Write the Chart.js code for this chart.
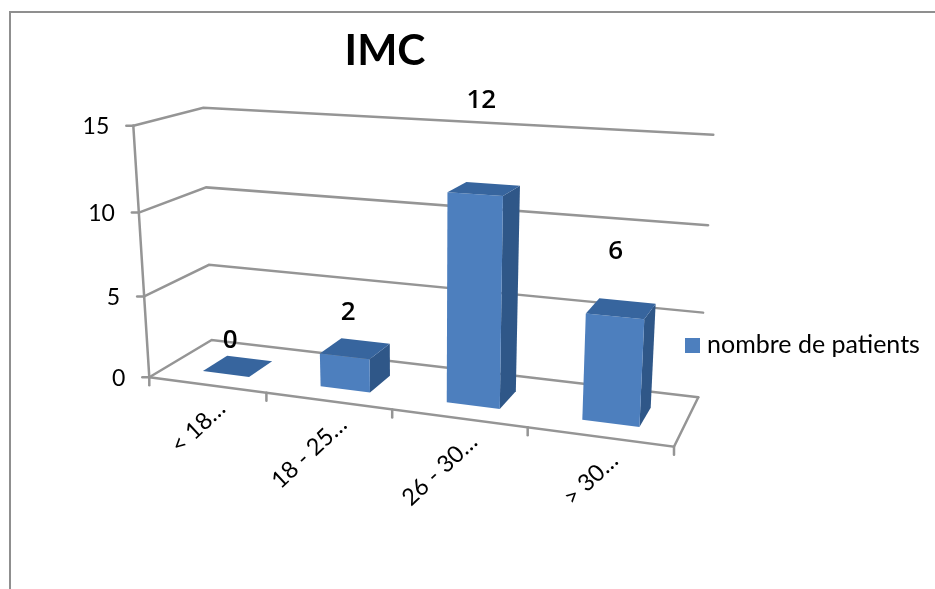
<!DOCTYPE html>
<html>
<head>
<meta charset="utf-8">
<title>IMC</title>
<script src="https://cdn.jsdelivr.net/npm/chart.js@4"></script>
<style>
    html, body { margin: 0; padding: 0; background: #fff; overflow: hidden; }
    #wrap { position: relative; width: 935px; height: 589px; }
</style>
</head>
<body>
<div id="wrap"><canvas id="imcChart" width="935" height="589"></canvas></div>
<script>
var categories = ['< 18…', '18 - 25…', '26 - 30…', '> 30…'];
var patients = [0, 2, 12, 6];
var seriesName = 'nombre de patients';
var titleText = 'IMC';
var valueMax = 15;
var valueStep = 5;

var FONT = 'Lato';
var GRID_COLOR = '#959595';
var FACE_COLOR = '#4d7fbe';
var TOP_COLOR = '#37659e';
var SIDE_COLOR = '#2f5788';

// screen corners of the chart box: bottom-left, bottom-right, top-right, top-left
var backWall = [[211.7, 340], [698.3, 397.3], [713.3, 134.7], [203.3, 107.7]];
var frontWall = [[149.3, 377.3], [674, 446.7], [689.4, 156.7], [133.3, 125.7]];
// bar footprint along the depth axis, 0 = front of the floor, 1 = back wall
var BAR_FRONT = 0.29;
var BAR_BACK = 0.69;
var BAR_SHIFT = 0.004;

// unit square -> quad, perspective map
function squareToQuad(q) {
    var dx1 = q[1][0] - q[2][0], dx2 = q[3][0] - q[2][0], sx = q[0][0] - q[1][0] + q[2][0] - q[3][0];
    var dy1 = q[1][1] - q[2][1], dy2 = q[3][1] - q[2][1], sy = q[0][1] - q[1][1] + q[2][1] - q[3][1];
    var den = dx1 * dy2 - dx2 * dy1;
    var g = (sx * dy2 - dx2 * sy) / den;
    var h = (dx1 * sy - sx * dy1) / den;
    return function (u, v) {
        var w = g * u + h * v + 1;
        return [
            ((q[1][0] - q[0][0] + g * q[1][0]) * u + (q[3][0] - q[0][0] + h * q[3][0]) * v + q[0][0]) / w,
            ((q[1][1] - q[0][1] + g * q[1][1]) * u + (q[3][1] - q[0][1] + h * q[3][1]) * v + q[0][1]) / w
        ];
    };
}

var frontMap = squareToQuad(frontWall);
var backMap = squareToQuad(backWall);

function project(u, v, d) {
    var a = frontMap(u, v), b = backMap(u, v);
    return [a[0] + (b[0] - a[0]) * d, a[1] + (b[1] - a[1]) * d];
}

function line(ctx, pts) {
    ctx.beginPath();
    ctx.moveTo(pts[0][0], pts[0][1]);
    for (var i = 1; i < pts.length; i++) ctx.lineTo(pts[i][0], pts[i][1]);
    ctx.stroke();
}

function fillPoly(ctx, pts, color) {
    ctx.fillStyle = color;
    ctx.beginPath();
    ctx.moveTo(pts[0][0], pts[0][1]);
    for (var i = 1; i < pts.length; i++) ctx.lineTo(pts[i][0], pts[i][1]);
    ctx.closePath();
    ctx.fill();
}

var perspectivePlugin = {
    id: 'perspective',
    beforeDatasetsDraw: function (chart) {
        var ctx = chart.ctx;
        var xs = chart.scales.x, ys = chart.scales.y;
        var meta = chart.getDatasetMeta(0);
        var toU = function (px) { return (px - xs.left) / (xs.right - xs.left); };
        var toV = function (px) { return (ys.bottom - px) / (ys.bottom - ys.top); };

        ctx.save();
        // outer frame, right and bottom edges fall off the canvas
        ctx.strokeStyle = '#8f8f8f';
        ctx.lineWidth = 2;
        ctx.strokeRect(10, 12, 960, 620);

        ctx.strokeStyle = GRID_COLOR;
        ctx.lineWidth = 2.5;
        ctx.lineCap = 'round';

        // walls and value ticks
        ctx.fillStyle = '#000';
        ctx.font = '23px ' + FONT;
        ctx.textAlign = 'right';
        ctx.textBaseline = 'middle';
        ys.ticks.forEach(function (tick) {
            var v = toV(ys.getPixelForValue(tick.value));
            var front = project(0, v, 0);
            line(ctx, [front, project(0, v, 1), project(1, v, 1)]);
            line(ctx, [[front[0] - 7, front[1]], front]);
            ctx.fillText(String(tick.value), front[0] - 24, front[1] + 1);
        });
        line(ctx, [project(0, 0, 0), project(0, 1, 0)]);

        // floor
        line(ctx, [project(0, 0, 0), project(1, 0, 0), project(1, 0, 1)]);

        // category ticks and rotated labels
        xs.ticks.forEach(function (tick, i) {
            var edge = xs.getPixelForTick(i) + (xs.getPixelForTick(1) - xs.getPixelForTick(0)) / 2;
            var p = project(toU(edge), 0, 0);
            line(ctx, [p, [p[0], p[1] + 8]]);
        });
        var p0 = project(0, 0, 0);
        line(ctx, [p0, [p0[0], p0[1] + 8]]);

        ctx.font = '23.5px ' + FONT;
        xs.ticks.forEach(function (tick, i) {
            var c = project(toU(xs.getPixelForTick(i)), 0, 0);
            ctx.save();
            ctx.translate(c[0] + 15, c[1] + 20);
            ctx.rotate(-43 * Math.PI / 180);
            ctx.textAlign = 'right';
            ctx.textBaseline = 'middle';
            ctx.fillText(categories[i], 0, 0);
            ctx.restore();
        });

        // bars and value labels
        meta.data.forEach(function (bar, i) {
            var u0 = toU(bar.x - bar.width / 2) + BAR_SHIFT, u1 = toU(bar.x + bar.width / 2) + BAR_SHIFT;
            var vb = toV(bar.base), vt = toV(bar.y);

            fillPoly(ctx, [project(u1, vb, BAR_FRONT), project(u1, vb, BAR_BACK), project(u1, vt, BAR_BACK), project(u1, vt, BAR_FRONT)], SIDE_COLOR);
            fillPoly(ctx, [project(u0, vb, BAR_FRONT), project(u1, vb, BAR_FRONT), project(u1, vt, BAR_FRONT), project(u0, vt, BAR_FRONT)], FACE_COLOR);
            fillPoly(ctx, [project(u0, vt, BAR_FRONT), project(u1, vt, BAR_FRONT), project(u1, vt, BAR_BACK), project(u0, vt, BAR_BACK)], TOP_COLOR);

            // labels sit higher the taller the bar is
            var mid = project((u0 + u1) / 2, vt, 0.5);
            ctx.fillStyle = '#000';
            ctx.font = '600 26px "Open Sans"';
            ctx.textAlign = 'center';
            ctx.textBaseline = 'middle';
            ctx.fillText(String(patients[i]), mid[0] - 8 + 0.4 * patients[i], mid[1] - 25 - 5.3 * patients[i]);
        });

        // series key to the right of the box
        ctx.fillStyle = FACE_COLOR;
        ctx.fillRect(685, 338, 15, 15);
        ctx.fillStyle = '#000';
        ctx.font = '25px ' + FONT;
        ctx.textAlign = 'left';
        ctx.textBaseline = 'middle';
        ctx.fillText(seriesName, 707, 345);

        ctx.restore();
        return false;
    }
};

new Chart(document.getElementById('imcChart'), {
    type: 'bar',
    data: {
        labels: categories,
        datasets: [{
            label: seriesName,
            data: patients,
            backgroundColor: FACE_COLOR,
            barPercentage: 0.4,
            categoryPercentage: 1
        }]
    },
    options: {
        responsive: false,
        animation: false,
        layout: { padding: { left: 10, top: 12, right: 175, bottom: 0 } },
        scales: {
            x: { display: false },
            y: { display: false, min: 0, max: valueMax, ticks: { stepSize: valueStep } }
        },
        plugins: {
            tooltip: { enabled: false },
            legend: { display: false },
            title: {
                display: true,
                text: titleText,
                color: '#000',
                font: { family: FONT, size: 42.5, weight: 'bold' },
                padding: { top: 14, bottom: 10 }
            }
        }
    },
    plugins: [perspectivePlugin]
});
</script>
</body>
</html>
